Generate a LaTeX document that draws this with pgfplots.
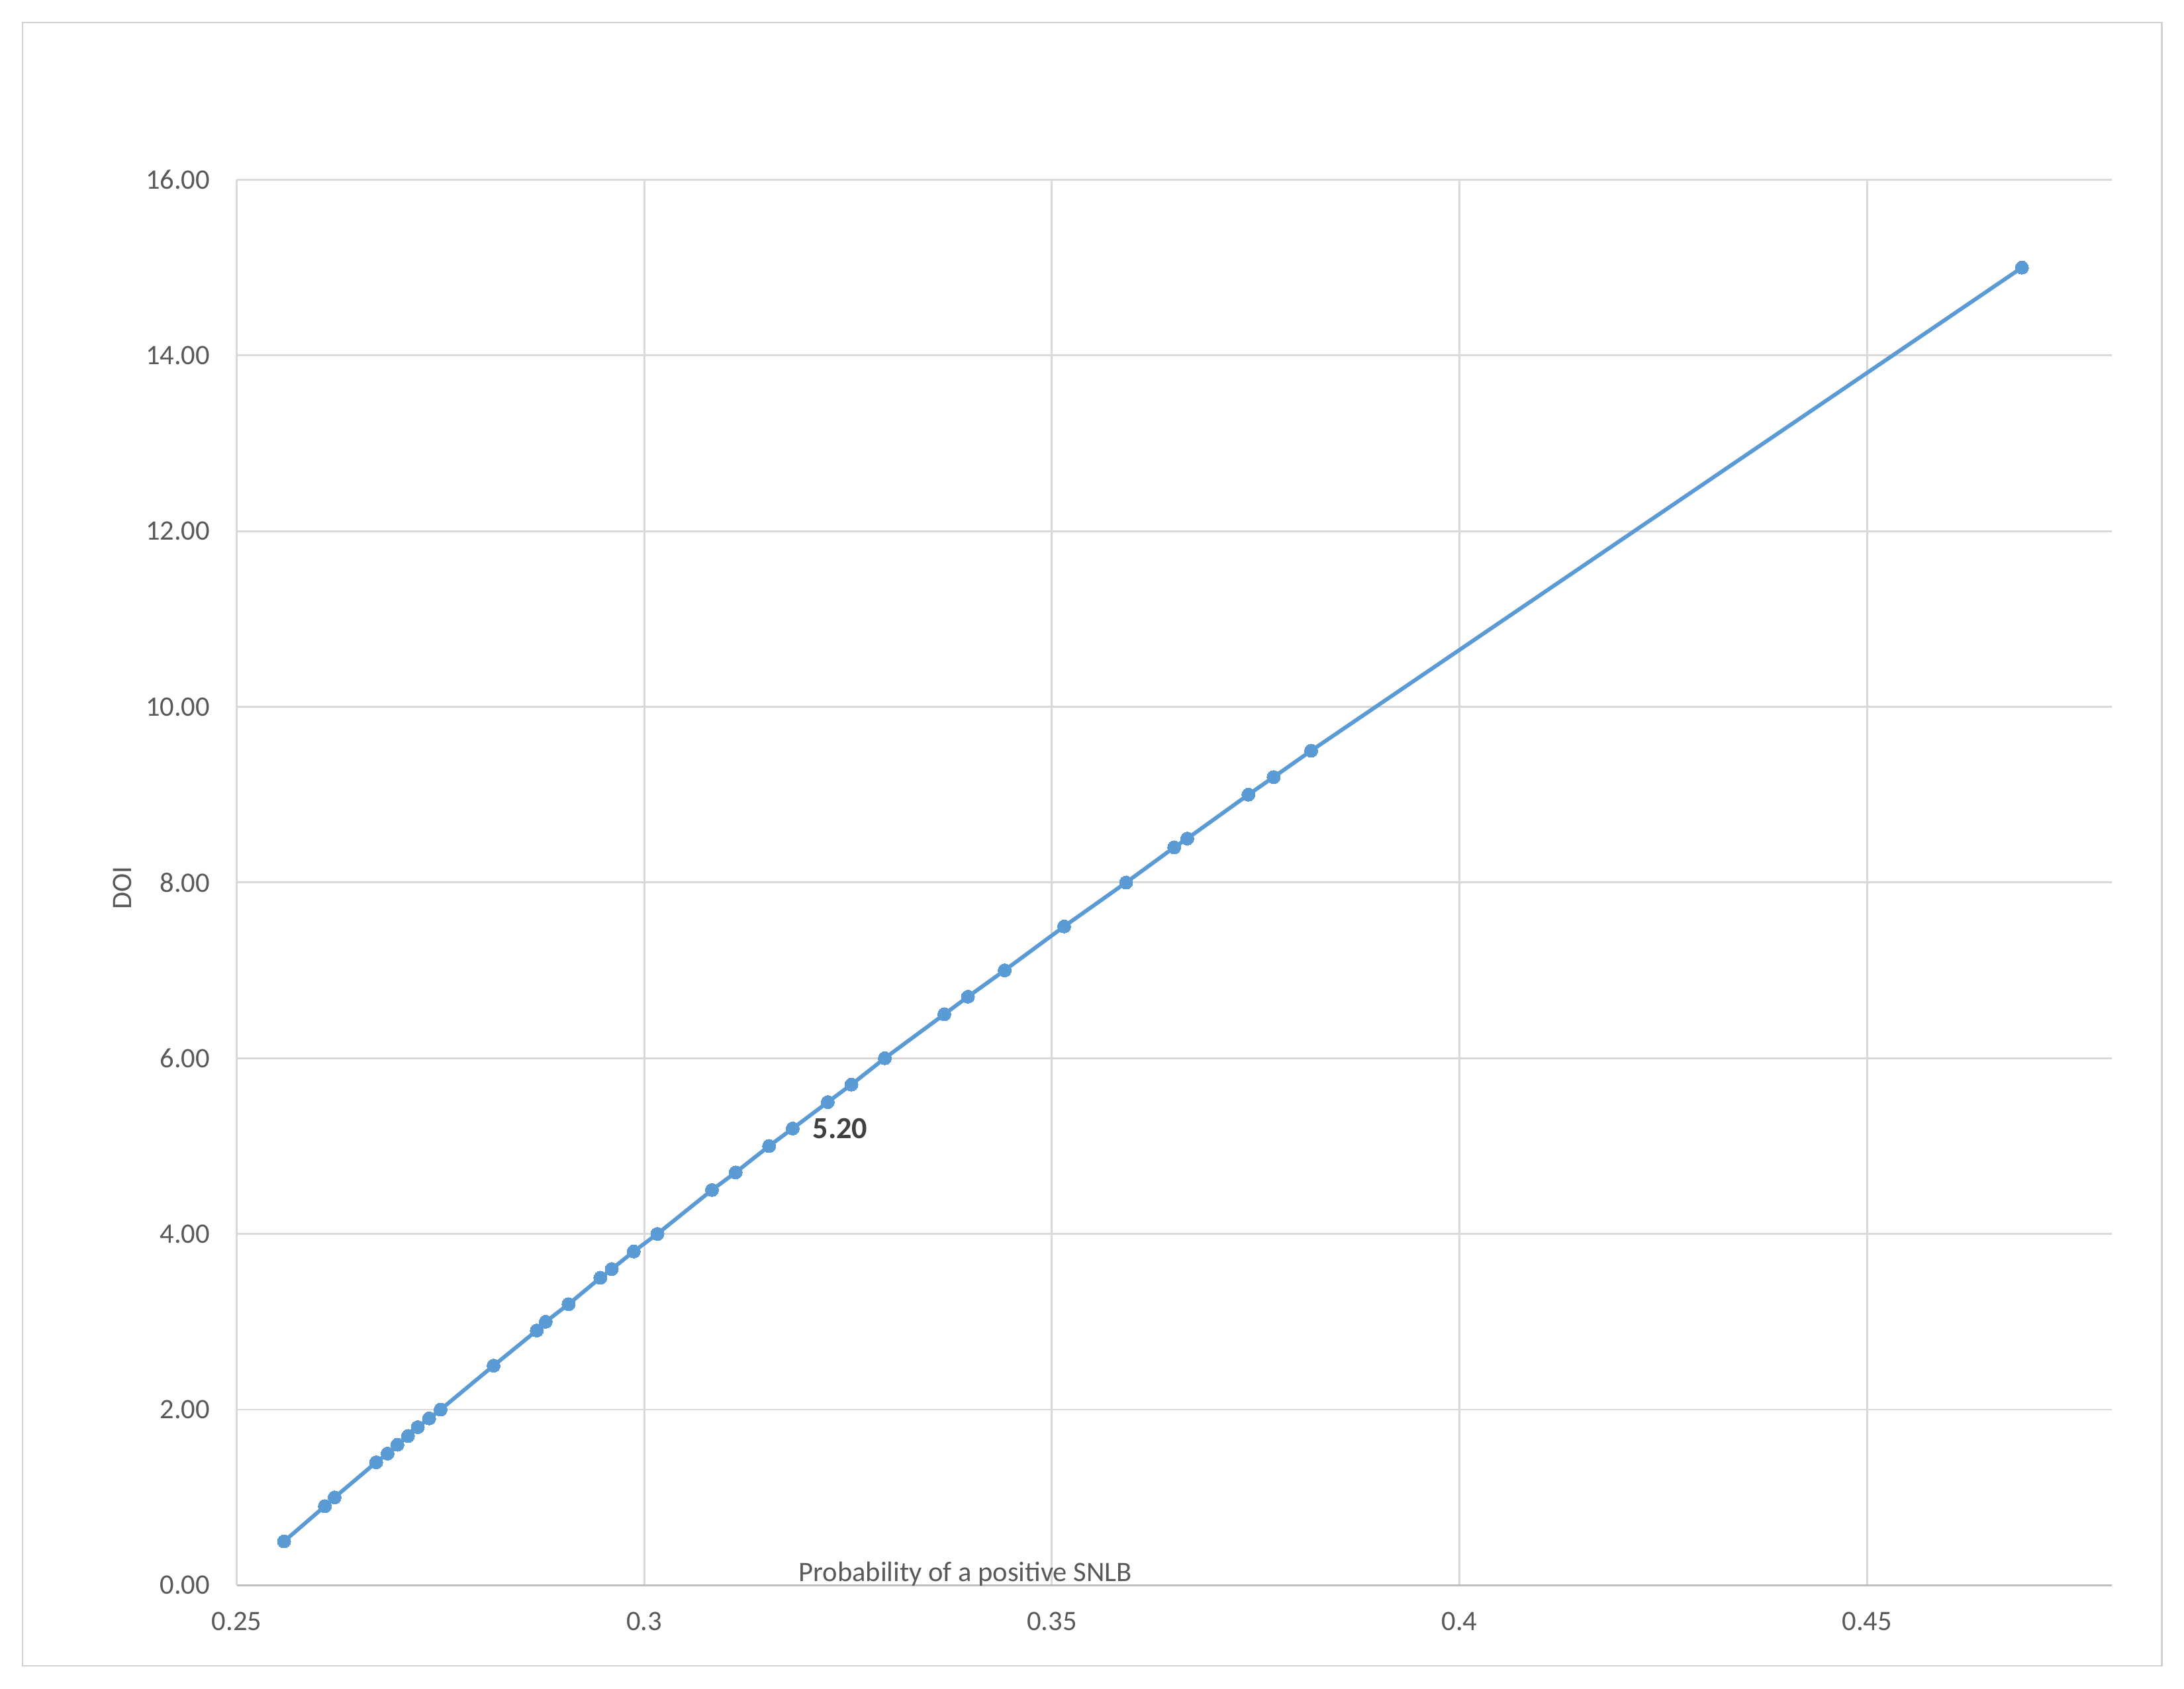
\documentclass[border=0pt]{standalone}
\usepackage{fontspec}
\setmainfont{Carlito}
\usepackage{pgfplots}
\pgfplotsset{compat=1.18}

\definecolor{xlblue}{HTML}{5B9BD5}
\definecolor{xlgrid}{HTML}{D9D9D9}
\definecolor{xltext}{HTML}{595959}
\definecolor{xlaxis}{HTML}{BFBFBF}

\begin{document}
\begin{tikzpicture}
% page frame: 1568 x 1212 px at 0.02cm per px
\path (0,0) rectangle (31.36cm,-24.24cm);
\draw[xlgrid!120, line width=0.6pt] (0.32cm,-0.32cm) rectangle (31.04cm,-23.92cm);

\begin{axis}[
    scale only axis,
    width=26.92cm, height=20.18cm,
    at={(3.4cm,-22.76cm)}, anchor=south west,
    xmin=0.25, xmax=0.48,
    ymin=0, ymax=16,
    xtick={0.25,0.3,0.35,0.4,0.45},
    ytick={0,2,...,16},
    axis lines*=left,
    axis line style={-},
    y axis line style={draw=none},
    x axis line style={draw=xlaxis, line width=1pt},
    major tick length=0pt,
    grid=major,
    grid style={xlgrid, line width=0.8pt},
    tick label style={font=\fontsize{11.5}{13}\selectfont, text=xltext,
        /pgf/number format/assume math mode=true},
    xticklabel style={inner sep=0pt, anchor=north, yshift=-0.38cm,
        /pgf/number format/.cd, fixed, precision=2},
    yticklabel style={inner sep=0pt, anchor=east, xshift=-0.38cm,
        /pgf/number format/.cd, fixed, fixed zerofill, precision=2},
    scaled ticks=false,
    xlabel={Probability of a positive SNLB},
    ylabel={DOI},
    xlabel style={at={(rel axis cs:0.3886,0)}, anchor=base, yshift=0.06cm,
        font=\fontsize{11.5}{13}\selectfont, text=xltext},
    % the label is rotated already, so yshift moves it to the left
    ylabel style={at={(rel axis cs:0,0.496)}, anchor=center, yshift=1.64cm,
        font=\fontsize{11.5}{13}\selectfont, text=xltext},
    clip=false,
]
\addplot[xlblue, line width=1.6pt, mark=*, mark size=2.7pt,
    mark options={fill=xlblue, draw=xlblue, line width=0pt}]
coordinates {
    (0.2558, 0.5)
    (0.2608, 0.9)
    (0.2620, 1.0)
    (0.2671, 1.4)
    (0.2685, 1.5)
    (0.2697, 1.6)
    (0.2710, 1.7)
    (0.2722, 1.8)
    (0.2736, 1.9)
    (0.2750, 2.0)
    (0.2815, 2.5)
    (0.2868, 2.9)
    (0.2879, 3.0)
    (0.2907, 3.2)
    (0.2946, 3.5)
    (0.2960, 3.6)
    (0.2987, 3.8)
    (0.3016, 4.0)
    (0.3083, 4.5)
    (0.3112, 4.7)
    (0.3153, 5.0)
    (0.3182, 5.2)
    (0.3225, 5.5)
    (0.3254, 5.7)
    (0.3295, 6.0)
    (0.3368, 6.5)
    (0.3397, 6.7)
    (0.3442, 7.0)
    (0.3515, 7.5)
    (0.3591, 8.0)
    (0.3650, 8.4)
    (0.3666, 8.5)
    (0.3741, 9.0)
    (0.3772, 9.2)
    (0.3818, 9.5)
    (0.4690, 15.0)
};
\node[anchor=west, inner sep=0pt, xshift=0.28cm, text=black!75,
    font=\fontsize{12.5}{14}\selectfont\bfseries] at (axis cs:0.3182,5.2) {5.20};
\end{axis}
\end{tikzpicture}
\end{document}
